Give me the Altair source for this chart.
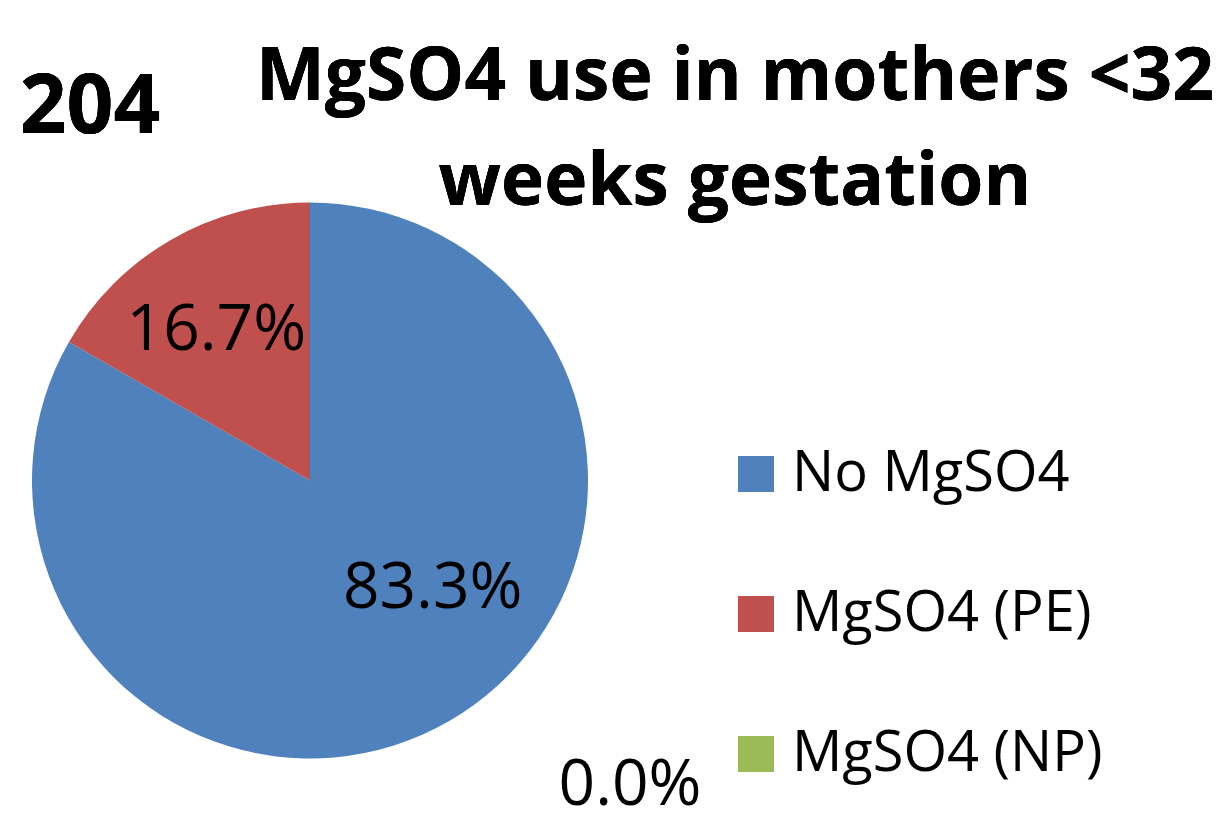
import altair as alt
import pandas as pd

categories = ["No MgSO4", "MgSO4 (PE)", "MgSO4 (NP)"]
percents = [83.3, 16.7, 0.0]
labels = ["83.3%", "16.7%", "0.0%"]
colors = ["#4F81BD", "#C0504D", "#9BBB59"]
count_label = "204"
title_lines = ["MgSO4 use in mothers <32", "weeks gestation"]

df = pd.DataFrame({
    "cat": categories,
    "pct": percents,
    "label": labels,
    "idx": list(range(len(categories))),
})

FONT = "Open Sans"
CX, CY, R = 302, 472.5, 278

base = alt.Chart(df).encode(
    theta=alt.Theta("pct:Q", stack=True),
    order=alt.Order("idx:Q", sort="ascending"),
)

pie = base.mark_arc(outerRadius=R, x=CX, y=CY).encode(
    color=alt.Color(
        "cat:N",
        sort=categories,
        scale=alt.Scale(domain=categories, range=colors),
        legend=alt.Legend(
            title=None,
            orient="none",
            legendX=720,
            legendY=438,
            symbolType="square",
            symbolSize=1296,
            symbolStrokeWidth=0,
            labelFont=FONT,
            labelFontSize=56,
            labelColor="black",
            labelOffset=8,
            labelLimit=600,
            rowPadding=84,
            padding=0,
        ),
    )
)


def label_layer(cat, radius, dx, dy):
    return base.mark_text(
        radius=radius, x=CX, y=CY, dx=dx, dy=dy,
        font=FONT, fontSize=64, color="black",
        align="center", baseline="middle",
    ).encode(
        text=alt.condition(alt.datum.cat == cat, "label:N", alt.value("")),
    )


lab_no = label_layer("No MgSO4", 155, 45, -26)
lab_pe = label_layer("MgSO4 (PE)", 173, -7, 0)
lab_np = label_layer("MgSO4 (NP)", 290, 320, 595)

t1 = alt.Chart(df).mark_text(
    text=title_lines[0], font=FONT, fontWeight="bold", fontSize=73,
    align="center", baseline="alphabetic", color="black",
).encode(x=alt.value(727), y=alt.value(92))

t2 = alt.Chart(df).mark_text(
    text=title_lines[1], font=FONT, fontWeight="bold", fontSize=73,
    align="center", baseline="alphabetic", color="black",
).encode(x=alt.value(727), y=alt.value(197))

t3 = alt.Chart(df).mark_text(
    text=count_label, font=FONT, fontWeight="bold", fontSize=82,
    align="center", baseline="alphabetic", color="black",
).encode(x=alt.value(82), y=alt.value(125))

chart = alt.layer(pie, lab_no, lab_pe, lab_np, t1, t2, t3).properties(
    width=1214,
    height=812,
    autosize=alt.AutoSizeParams(type="none"),
    padding=0,
    background="white",
).configure_view(stroke=None)

chart.save("out.html", embed_options={"renderer": "svg", "actions": False})
